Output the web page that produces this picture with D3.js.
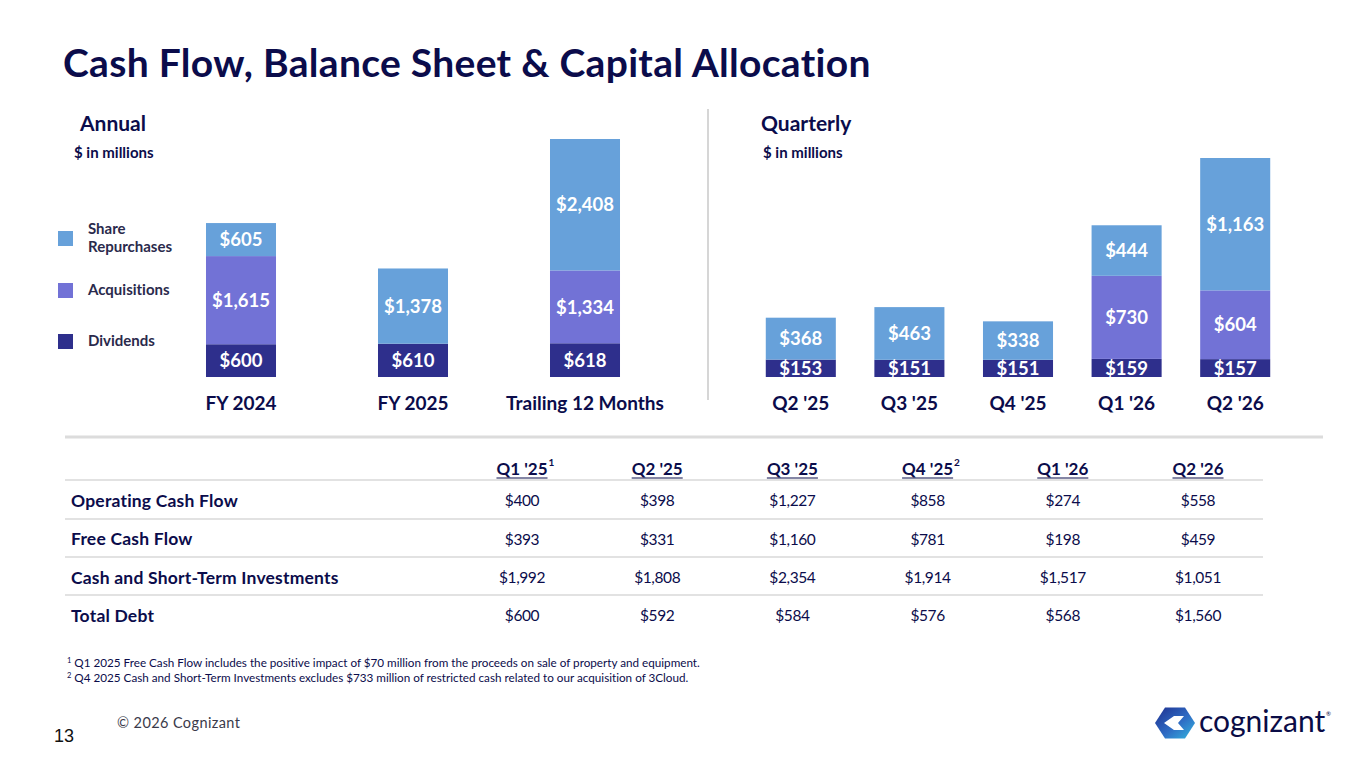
<!DOCTYPE html>
<html>
<head>
<meta charset="utf-8">
<title>Cash Flow, Balance Sheet & Capital Allocation</title>
<script src="https://d3js.org/d3.v7.min.js"></script>
<style>
  body { margin: 0; background: #fff; }
  svg { display: block; font-family: Lato, "Noto Sans", sans-serif; font-variant-ligatures: none; font-feature-settings: "liga" 0; }
</style>
</head>
<body>
<script>
// chart data
const seriesKeys = ["dividends", "acquisitions", "repurchases"]
const seriesLabels = ["Dividends", "Acquisitions", "Share Repurchases"]

const annualCats = ["FY 2024", "FY 2025", "Trailing 12 Months"]
const annualDividends = [600, 610, 618]
const annualAcquisitions = [1615, 0, 1334]
const annualRepurchases = [605, 1378, 2408]

const quarterCats = ["Q2 '25", "Q3 '25", "Q4 '25", "Q1 '26", "Q2 '26"]
const quarterDividends = [153, 151, 151, 159, 157]
const quarterAcquisitions = [0, 0, 0, 730, 604]
const quarterRepurchases = [368, 463, 338, 444, 1163]

const tableCols = ["Q1 '25", "Q2 '25", "Q3 '25", "Q4 '25", "Q1 '26", "Q2 '26"]
const tableColNotes = ["1", "", "", "2", "", ""]
const tableRows = ["Operating Cash Flow", "Free Cash Flow", "Cash and Short-Term Investments", "Total Debt"]
const operatingCashFlow = [400, 398, 1227, 858, 274, 558]
const freeCashFlow = [393, 331, 1160, 781, 198, 459]
const cashAndInvestments = [1992, 1808, 2354, 1914, 1517, 1051]
const totalDebt = [600, 592, 584, 576, 568, 1560]

const footnotes = [
  ["1", "Q1 2025 Free Cash Flow includes the positive impact of $70 million from the proceeds on sale of property and equipment."],
  ["2", "Q4 2025 Cash and Short-Term Investments excludes $733 million of restricted cash related to our acquisition of 3Cloud."]
]

const width = 1365, height = 768
const navy = "#0b0c4b"
const color = d3.scaleOrdinal(seriesKeys, ["#2e2f8c", "#7272d6", "#67a1da"])
const money = d3.format("$,")

const svg = d3.select("body").append("svg")
    .attr("width", width)
    .attr("height", height)

// title
svg.append("text")
    .attr("x", 63).attr("y", 77)
    .attr("fill", navy)
    .style("font-size", "39px").style("font-weight", 700).style("letter-spacing", "0.3px")
    .text("Cash Flow, Balance Sheet & Capital Allocation")

function sectionHead(x, subX, title, sub) {
  svg.append("text").attr("x", x).attr("y", 131)
      .attr("fill", navy).style("font-size", "21px").style("font-weight", 700)
      .text(title)
  svg.append("text").attr("x", subX).attr("y", 158)
      .attr("fill", navy).style("font-size", "15px").style("font-weight", 700)
      .text(sub)
}
sectionHead(80, 74, "Annual", "$ in millions")
sectionHead(761, 763, "Quarterly", "$ in millions")

// divider
svg.append("line")
    .attr("x1", 708).attr("x2", 708).attr("y1", 109).attr("y2", 400)
    .attr("stroke", "#d6d6d6").attr("stroke-width", 2)

// legend
const legendRows = [
  {key: "repurchases", lines: ["Share", "Repurchases"], y: 238},
  {key: "acquisitions", lines: ["Acquisitions"], y: 290},
  {key: "dividends", lines: ["Dividends"], y: 341}
]
const lg = svg.append("g").selectAll("g").data(legendRows).join("g")
lg.append("rect")
    .attr("x", 58).attr("y", d => d.y - 7).attr("width", 15).attr("height", 15)
    .attr("fill", d => color(d.key))
lg.append("text")
    .attr("x", 88).attr("y", d => d.y - (d.lines.length - 1) * 9.5)
    .attr("fill", "#2a2a4c").style("font-size", "15px").style("font-weight", 700)
    .attr("dy", "0.35em")
    .selectAll("tspan").data(d => d.lines).join("tspan")
    .attr("x", 88).attr("dy", (d, i) => i ? "1.2em" : null)
    .text(d => d)

// stacked bar panel
function stackedPanel(cats, dividends, acquisitions, repurchases, xRange, yTop, padInner) {
  const rows = cats.map((c, i) => ({cat: c, dividends: dividends[i], acquisitions: acquisitions[i], repurchases: repurchases[i]}))
  const series = d3.stack().keys(seriesKeys)(rows)

  const x = d3.scaleBand().domain(cats).range(xRange)
      .paddingInner(padInner).paddingOuter(padInner / 2)
  const y = d3.scaleLinear()
      .domain([0, d3.max(series[series.length - 1], d => d[1])])
      .range([377, yTop])

  const g = svg.append("g")
  const layer = g.selectAll("g").data(series).join("g")
      .attr("fill", d => color(d.key))
  layer.selectAll("rect").data(d => d.filter(s => s[1] > s[0])).join("rect")
      .attr("x", d => x(d.data.cat))
      .attr("width", x.bandwidth())
      .attr("y", d => y(d[1]))
      .attr("height", d => y(d[0]) - y(d[1]))

  const lbl = g.append("g")
      .attr("fill", "#fff").attr("text-anchor", "middle")
      .style("font-size", "18.5px").style("font-weight", 700)
  series.forEach(s => {
    lbl.selectAll(null).data(s.filter(v => v[1] > v[0])).join("text")
        .attr("x", d => x(d.data.cat) + x.bandwidth() / 2)
        .attr("y", d => (y(d[0]) + y(d[1])) / 2)
        .attr("dy", "0.36em")
        .text(d => money(d[1] - d[0]))
  })

  const axis = d3.axisBottom(x).tickSize(0).tickPadding(20)
  g.append("g").attr("transform", "translate(0,377)").call(axis)
      .call(a => a.select(".domain").remove())
      .call(a => a.selectAll("text")
          .attr("fill", navy)
          .style("font-family", "Lato, sans-serif")
          .style("font-size", "19px").style("font-weight", 700))
}

stackedPanel(annualCats, annualDividends, annualAcquisitions, annualRepurchases, [155, 671], 139, 0.593)
stackedPanel(quarterCats, quarterDividends, quarterAcquisitions, quarterRepurchases, [746.5, 1289.5], 158, 0.355)

// separator above table
svg.append("line")
    .attr("x1", 65).attr("x2", 1323).attr("y1", 437).attr("y2", 437)
    .attr("stroke", "#dcdcdc").attr("stroke-width", 3)

// table
const tableData = [operatingCashFlow, freeCashFlow, cashAndInvestments, totalDebt]
const cx = d3.scalePoint().domain(tableCols).range([522, 1198])
const ry = d3.scalePoint().domain(tableRows).range([501, 616])

const tbl = svg.append("g").attr("fill", navy)

const heads = tbl.selectAll("g.head").data(tableCols).join("g")
    .attr("class", "head")
heads.append("text")
    .attr("x", d => cx(d)).attr("y", 469).attr("dy", "0.35em")
    .attr("text-anchor", "middle")
    .style("font-size", "17px").style("font-weight", 700)
    .text(d => d)
    .each(function(d) {
      const w = this.getComputedTextLength()
      d3.select(this.parentNode).append("line")
          .attr("x1", cx(d) - w / 2).attr("x2", cx(d) + w / 2)
          .attr("y1", 478).attr("y2", 478)
          .attr("stroke", navy).attr("stroke-width", 1)
      const note = tableColNotes[tableCols.indexOf(d)]
      if (note) {
        d3.select(this.parentNode).append("text")
            .attr("x", cx(d) + w / 2 + 1).attr("y", 466)
            .style("font-size", "10px").style("font-weight", 700)
            .text(note)
      }
    })

// row rules
tbl.selectAll("line.rule").data([480, 519, 557, 595]).join("line")
    .attr("class", "rule")
    .attr("x1", 65).attr("x2", 1263)
    .attr("y1", d => d).attr("y2", d => d)
    .attr("stroke", "#d9d9d9").attr("stroke-width", 1.5)

tbl.selectAll("text.rowlabel").data(tableRows).join("text")
    .attr("class", "rowlabel")
    .attr("x", 71).attr("y", d => ry(d)).attr("dy", "0.35em")
    .style("font-size", "17.5px").style("font-weight", 700).style("letter-spacing", "0.2px")
    .text(d => d)

tableData.forEach((vals, r) => {
  tbl.selectAll(null).data(vals).join("text")
      .attr("x", (d, i) => cx(tableCols[i]))
      .attr("y", ry(tableRows[r])).attr("dy", "0.35em")
      .attr("text-anchor", "middle")
      .style("font-size", "15.5px").style("font-weight", 400).style("letter-spacing", "-0.4px")
      .text(d => money(d))
})

// footnotes
const fn = svg.append("g").attr("fill", navy).style("font-size", "11.7px")
fn.selectAll("text").data(footnotes).join("text")
    .attr("x", 67).attr("y", (d, i) => 667 + i * 15)
    .call(t => t.append("tspan").attr("dy", "-4").style("font-size", "7.5px").text(d => d[0]))
    .call(t => t.append("tspan").attr("dy", "4").attr("dx", 3).text(d => d[1]))

// footer
svg.append("text").attr("x", 117).attr("y", 728)
    .attr("fill", "#3a3a4a").style("font-size", "14.5px").style("letter-spacing", "0.4px")
    .text("\u00a9 2026 Cognizant")
svg.append("text").attr("x", 54).attr("y", 742)
    .attr("fill", "#111").style("font-family", "'Liberation Sans', Arial, sans-serif").style("font-size", "18px")
    .text("13")

// logo
const defs = svg.append("defs")
const grad = defs.append("linearGradient").attr("id", "lg1")
    .attr("x1", "0").attr("y1", "0").attr("x2", "1").attr("y2", "1")
grad.append("stop").attr("offset", "0").attr("stop-color", "#1f2f8f")
grad.append("stop").attr("offset", "0.55").attr("stop-color", "#2f6cc4")
grad.append("stop").attr("offset", "1").attr("stop-color", "#35b7df")
const logo = svg.append("g").attr("transform", "translate(1175,723)")
const hex = d3.range(6).map(i => [20 * Math.cos(Math.PI / 3 * i), 18 * Math.sin(Math.PI / 3 * i)])
logo.append("path").attr("d", d3.line()(hex) + "Z").attr("fill", "url(#lg1)")
logo.append("path").attr("d", "M-11,0 L-1,-7 L9,-7 L3,0 L9,7 L-1,7 Z").attr("fill", "#fff")
svg.append("text").attr("x", 1199).attr("y", 732)
    .attr("fill", "#0a0c46")
    .style("font-family", "Lato, sans-serif").style("font-size", "30px").style("font-weight", 400)
    .text("cognizant")
svg.append("text").attr("x", 1326).attr("y", 716)
    .attr("fill", "#0a0c46").style("font-size", "6px").text("\u00ae")
</script>
</body>
</html>
